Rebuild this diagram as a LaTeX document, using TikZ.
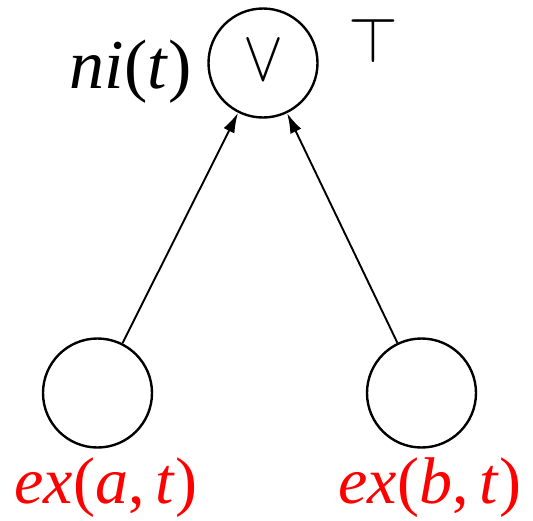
\documentclass[tikz,border=0pt]{standalone}
\usepackage{graphicx}
\usepackage{fontspec}
\setmainfont{Liberation Serif}
\usetikzlibrary{arrows.meta}
\begin{document}
\begin{tikzpicture}[x=1pt,y=-1pt,
  gate/.style={circle,draw,line width=2.4pt,minimum size=109pt,inner sep=0pt},
  conn/.style={line width=1.9pt,-{Latex[length=20pt,width=12pt]}},
  lbl/.style={font=\fontsize{66}{66}\selectfont,inner sep=0pt},
  sym/.style={inner sep=0pt},
]
\useasboundingbox (0,0) rectangle (533,520);
\node[gate] (top) at (263,63) {};
\node[sym] (or) at (263,60) {\scalebox{6}[7.2]{$\vee$}};
\node[sym] (tt) at (373,40) {\scalebox{6.4}{$\top$}};
\node[gate] (a) at (97.5,393) {};
\node[gate] (b) at (421.5,393) {};
\draw[conn] (a) -- (top);
\draw[conn] (b) -- (top);
\node[lbl, font=\fontsize{70}{70}\selectfont, anchor=base east] (ni) at (192,88) {\textit{ni\/}(\textit{t\/})};
\node[lbl, anchor=base, text=red] (ea) at (106,503) {\textit{ex\/}(\textit{a\/},\,\textit{t\/})};
\node[lbl, anchor=base, text=red] (eb) at (430,503) {\textit{ex\/}(\textit{b\/},\,\textit{t\/})};
\end{tikzpicture}
\end{document}
